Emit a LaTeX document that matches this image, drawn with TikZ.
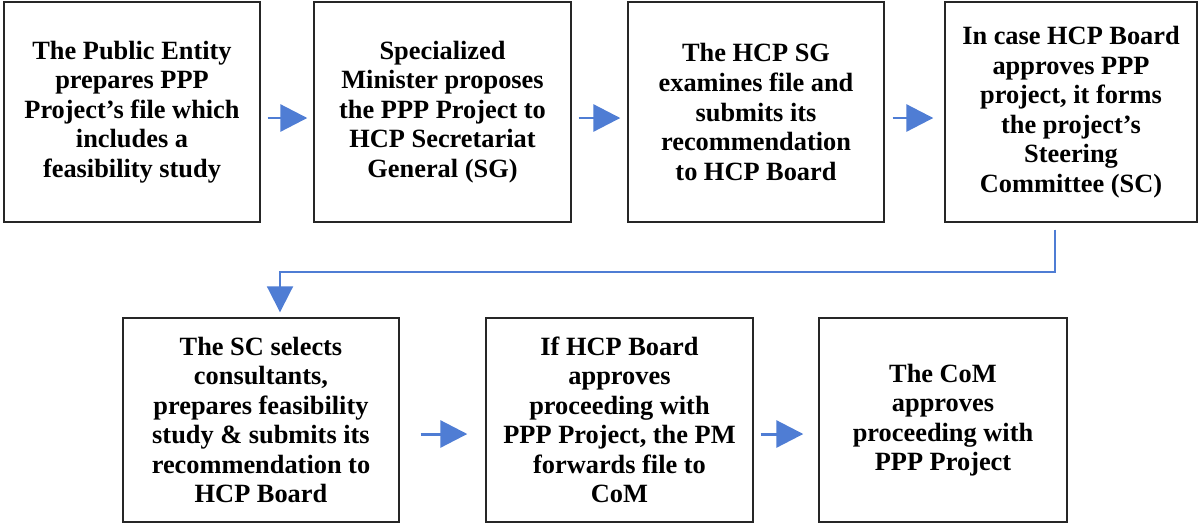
\documentclass[tikz,border=0pt]{standalone}
\usepackage{fontspec}
\setmainfont{Liberation Serif}
\usepackage{tikz}
\usetikzlibrary{arrows.meta}
\usetikzlibrary{calc}
\definecolor{flowblue}{RGB}{79,125,212}
\tikzset{
    stepbox/.style={draw=black!85, line width=0.8pt, align=center, inner sep=0pt, font=\fontsize{15}{16.8}\selectfont\bfseries},
    flowarrow/.style={flowblue, line width=1.7pt, -{Triangle[length=0.54cm,width=0.54cm]}},
    bendarrow/.style={flowblue, line width=1.1pt, -{Triangle[length=0.52cm,width=0.52cm]}}
}

\begin{document}
\begin{tikzpicture}
\useasboundingbox (0,0) rectangle (24,-10.5);
\foreach \x/\y/\w/\h/\p/\labeltext in {2.64/-2.24/5.12/4.40/s1/{The Public Entity\\prepares PPP\\Project’s file which\\includes a\\feasibility study}, 8.85/-2.24/5.14/4.40/s2/{Specialized\\Minister proposes\\the PPP Project to\\HCP Secretariat\\General (SG)}, 15.12/-2.24/5.12/4.40/s3/{The HCP SG\\examines file and\\submits its\\recommendation\\to HCP Board}, 21.42/-2.24/5.04/4.40/s4/{In case HCP Board\\approves PPP\\project, it forms\\the project’s\\Steering\\Committee (SC)}, 5.22/-8.40/5.52/4.08/s5/{The SC selects\\consultants,\\prepares feasibility\\study \& submits its\\recommendation to\\HCP Board}, 12.39/-8.40/5.34/4.08/s6/{If HCP Board\\approves\\proceeding with\\PPP Project, the PM\\forwards file to\\CoM}, 18.86/-8.40/4.96/4.08/s7/{The CoM\\approves\\proceeding with\\PPP Project}}{
    \node[stepbox, minimum width=\w cm, minimum height=\h cm] (\p) at (\x,\y) {\labeltext};
}
% arrows along each row
\foreach \a/\b/\s/\e/\dy in {s1/s2/0.14/0.12/-0.12, s2/s3/0.14/0.14/-0.12, s3/s4/0.16/0.22/-0.12, s5/s6/0.42/0.36/-0.28, s6/s7/0.14/0.30/-0.28}{
    \draw[flowarrow] ([shift={(\s,\dy)}]\a.east) -- ([shift={(-\e,\dy)}]\b.west);
}
\draw[bendarrow] ([shift={(-0.32,-0.14)}]s4.south) -- ++(0,-0.84) -| ([shift={(0.38,0.1)}]s5.north);
\end{tikzpicture}
\end{document}
